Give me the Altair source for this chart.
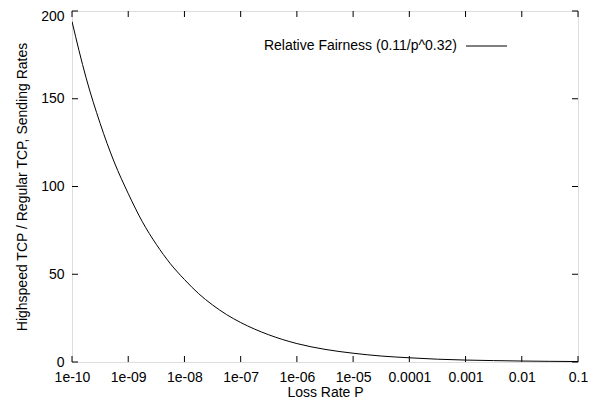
import altair as alt
import pandas as pd

# Curve (loss rate p, ratio)
loss_rate = [1e-10, 10**-9.75, 10**-9.5, 10**-9.25, 1e-9, 10**-8.75, 10**-8.5, 10**-8.25,
             1e-8, 10**-7.75, 10**-7.5, 10**-7.25, 1e-7, 10**-6.5, 1e-6, 10**-5.5, 1e-5, 10**-4.5,
             1e-4, 10**-3.5, 1e-3, 10**-2.5, 1e-2, 10**-1.5, 1e-1]
fairness = [194, 162, 136, 114, 96, 80, 67, 56,
            47, 39, 32.5, 27, 22.5, 15.5, 10.5, 7.2, 5.0, 3.4,
            2.4, 1.6, 1.1, 0.8, 0.55, 0.38, 0.26]

x_ticks = [1e-10, 1e-9, 1e-8, 1e-7, 1e-6, 1e-5, 1e-4, 1e-3, 1e-2, 1e-1]
x_tick_labels = ["1e-10", "1e-09", "1e-08", "1e-07", "1e-06", "1e-05",
                 "0.0001", "0.001", "0.01", "0.1"]
y_ticks = [0, 50, 100, 150, 200]

legend_label = "Relative Fairness (0.11/p^0.32)"
x_title = "Loss Rate P"
y_title = "Highspeed TCP / Regular TCP, Sending Rates"

W, H = 506, 351
FONT = "Liberation Sans"
FS = 14

curve = pd.DataFrame({"p": loss_rate, "r": fairness})
xt = pd.DataFrame({"p": x_ticks})
yt = pd.DataFrame({"v": y_ticks})

label_arr = "[" + ",".join("'%s'" % s for s in x_tick_labels) + "]"

xscale = alt.Scale(type="log", domain=[1e-10, 0.1])
yscale = alt.Scale(domain=[0, 200], nice=False)

line = alt.Chart(curve).mark_line(color="black", strokeWidth=1, interpolate="monotone", clip=True).encode(
    x=alt.X("p:Q", scale=xscale,
            axis=alt.Axis(values=x_ticks, labelExpr=label_arr + "[round(log(datum.value)/LN10)+10]",
                          ticks=False, domain=False, grid=False, labelPadding=8,
                          labelFont=FONT, labelFontSize=FS, labelColor="black",
                          title=x_title, titleFont=FONT, titleFontSize=FS, titleFontWeight="normal",
                          titleColor="black", titleBaseline="alphabetic", titleY=34,
                          labelFlush=False)),
    y=alt.Y("r:Q", scale=yscale,
            axis=alt.Axis(values=y_ticks, ticks=False, domain=False, grid=False, labelPadding=8,
                          labelFont=FONT, labelFontSize=FS, labelColor="black",
                          labelOffset={"condition": {"test": "datum.value == 200", "value": 5},
                                       "value": 0},
                          title=y_title, titleFont=FONT, titleFontSize=FS, titleFontWeight="normal",
                          titleColor="black", titlePadding=11, labelFlush=False)),
)

tick_len = 6
xb = alt.Chart(xt).mark_rule(color="black", strokeWidth=1).encode(
    x=alt.X("p:Q", scale=xscale), y=alt.value(H), y2=alt.value(H - tick_len))
xtop = alt.Chart(xt).mark_rule(color="black", strokeWidth=1).encode(
    x=alt.X("p:Q", scale=xscale), y=alt.value(0), y2=alt.value(tick_len))
yl = alt.Chart(yt).mark_rule(color="black", strokeWidth=1).encode(
    y=alt.Y("v:Q", scale=yscale), x=alt.value(0), x2=alt.value(tick_len))
yr = alt.Chart(yt).mark_rule(color="black", strokeWidth=1).encode(
    y=alt.Y("v:Q", scale=yscale), x=alt.value(W), x2=alt.value(W - tick_len))

leg_df = pd.DataFrame({"label": [legend_label]})
leg_text = alt.Chart(leg_df).mark_text(align="right", baseline="middle", font=FONT, fontSize=FS,
                                       color="black").encode(
    text="label:N", x=alt.value(385), y=alt.value(35))
leg_line = alt.Chart(leg_df).mark_rule(color="black", strokeWidth=1).encode(
    x=alt.value(394), x2=alt.value(435), y=alt.value(35))

chart = alt.layer(line, xb, xtop, yl, yr, leg_text, leg_line).properties(
    width=W, height=H,
    autosize=alt.AutoSizeParams(type="none"),
    padding={"left": 64, "top": 3, "right": 11, "bottom": 36},
).configure_view(stroke="black", strokeWidth=1).configure(background="white")

chart.save("out.html", embed_options={"renderer": "svg", "actions": False})
